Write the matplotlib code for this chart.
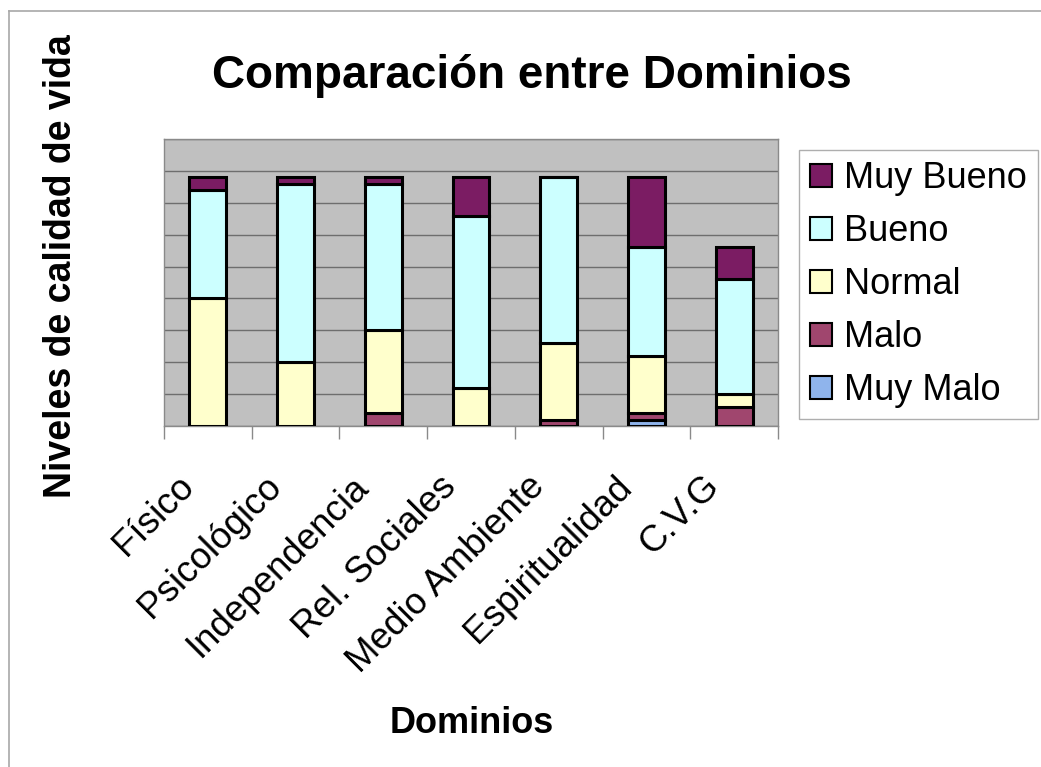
import numpy as np
import matplotlib.pyplot as plt
from matplotlib.lines import Line2D
from matplotlib.transforms import ScaledTranslation

plt.rcParams['font.family'] = ['Liberation Sans', 'DejaVu Sans']

# Dominios y número de respuestas por nivel
dominios = ['Físico', 'Psicológico', 'Independencia', 'Rel. Sociales',
            'Medio Ambiente', 'Espiritualidad', 'C.V.G']
muy_malo = [0, 0, 0, 0, 0, 1, 0]
malo = [0, 0, 2, 0, 1, 1, 3]
normal = [20, 10, 13, 6, 12, 9, 2]
bueno = [17, 28, 23, 27, 26, 17, 18]
muy_bueno = [2, 1, 1, 6, 0, 11, 5]

niveles = ['Muy Malo', 'Malo', 'Normal', 'Bueno', 'Muy Bueno']
series = [muy_malo, malo, normal, bueno, muy_bueno]
colores = ['#8FB4EC', '#A0466E', '#FFFFCC', '#CCFFFF', '#7B1C63']

fig = plt.figure(figsize=(10.41, 7.67), dpi=100)
ax = fig.add_axes([0.1575, 0.4446, 0.5898, 0.3742])
ax.set_facecolor('#C0C0C0')

x = np.arange(len(dominios))
base = np.zeros(len(dominios))
handles = []
for nombre, vals, col in zip(niveles, series, colores):
    vals = np.array(vals, dtype=float)
    b = ax.bar(x, vals, 0.42, bottom=base, color=col, edgecolor='black',
               linewidth=2.2, label=nombre, zorder=3)
    handles.append(b)
    base += vals

ax.set_xlim(-0.5, len(dominios) - 0.5)
ax.set_ylim(0, 45)
ax.set_yticks(np.arange(0, 46, 5))
ax.set_yticklabels([])
ax.tick_params(axis='y', length=0)
ax.yaxis.grid(True, color='#6E6E6E', linewidth=1.0, zorder=0)
ax.set_axisbelow(True)
for s in ax.spines.values():
    s.set_color('#8A8A8A')
    s.set_linewidth(1.0)

ax.set_xticks(x)
ax.set_xticklabels(dominios, rotation=45, ha='right', va='baseline',
                   rotation_mode='anchor', fontsize=26.5)
ax.set_xticks(np.arange(-0.5, len(dominios)), minor=True)
ax.tick_params(axis='x', which='major', length=0, pad=0)
ax.tick_params(axis='x', which='minor', length=9, width=1, color='#8A8A8A')
off = ScaledTranslation(-0.13, -0.62, fig.dpi_scale_trans)
for lab in ax.get_xticklabels():
    lab.set_transform(lab.get_transform() + off)

fig.text(0.5106, 0.8853, 'Comparación entre Dominios', fontsize=33,
         fontweight='bold', ha='center', va='baseline')
fig.text(0.0586, 0.653, 'Niveles de calidad de vida', fontsize=27,
         fontweight='bold', rotation=90, ha='center', va='center')
fig.text(0.453, 0.0443, 'Dominios', fontsize=26, fontweight='bold',
         ha='center', va='baseline')

leg = fig.legend(handles[::-1], niveles[::-1], loc='upper left',
                 bbox_to_anchor=(799 / 1041, 1 - 150 / 767), fontsize=26,
                 frameon=True, fancybox=False, handlelength=0.6,
                 handleheight=0.6, handletextpad=0.35, labelspacing=0.5,
                 borderpad=0.3, borderaxespad=0)
leg.get_frame().set_edgecolor('#9A9A9A')
leg.get_frame().set_linewidth(1.0)
for h in leg.legend_handles:
    h.set_linewidth(1.5)

# marco exterior del gráfico
fig.add_artist(Line2D([9 / 1041, 1], [1 - 11 / 767, 1 - 11 / 767],
                      color='#A8A8A8', linewidth=1.2))
fig.add_artist(Line2D([9 / 1041, 9 / 1041], [0, 1 - 11 / 767],
                      color='#A8A8A8', linewidth=1.2))

fig.savefig('out.png', dpi=100)
